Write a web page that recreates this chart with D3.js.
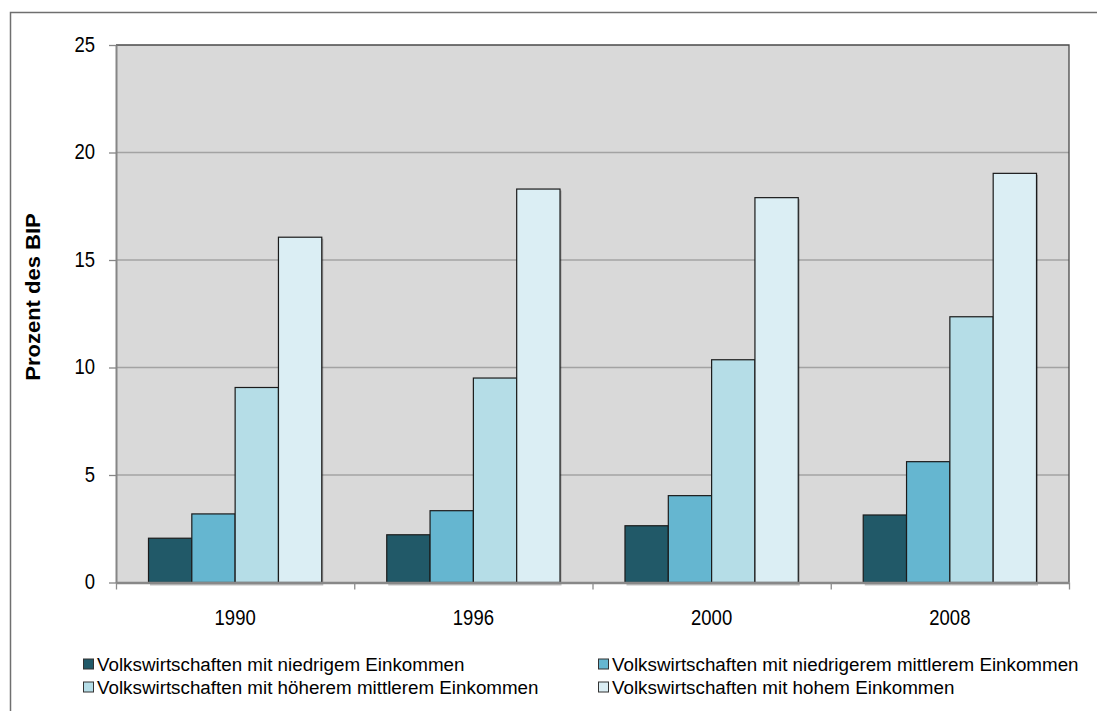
<!DOCTYPE html>
<html>
<head>
<meta charset="utf-8">
<script src="https://cdn.jsdelivr.net/npm/d3@7"></script>
<style>
    body { margin: 0; background: #ffffff; overflow: hidden; }
    svg { display: block; font-family: "Liberation Sans", Arial, sans-serif; }
</style>
</head>
<body>
<div id="chart"></div>
<script>
// chart values
const years = ["1990", "1996", "2000", "2008"];
const seriesNames = [
    "Volkswirtschaften mit niedrigem Einkommen",
    "Volkswirtschaften mit niedrigerem mittlerem Einkommen",
    "Volkswirtschaften mit höherem mittlerem Einkommen",
    "Volkswirtschaften mit hohem Einkommen"
];
const lowIncome = [2.06, 2.22, 2.64, 3.14];
const lowerMiddleIncome = [3.19, 3.34, 4.04, 5.62];
const upperMiddleIncome = [9.07, 9.51, 10.36, 12.36];
const highIncome = [16.06, 18.3, 17.9, 19.03];
const yTicks = [0, 5, 10, 15, 20, 25];

const seriesValues = [lowIncome, lowerMiddleIncome, upperMiddleIncome, highIncome];
const colors = ["#215968", "#65b6d0", "#b5dde7", "#dbeef4"];

const width = 1097, height = 711;
const margin = {top: 45, right: 28, bottom: 128.5, left: 116};
const stretch = 1.15; // axis text in the reference is slightly tall

const svg = d3.select("#chart").append("svg")
    .attr("width", width)
    .attr("height", height);

// outer chart frame (only top and left edges are inside the picture)
svg.append("path")
    .attr("d", `M${width},12.5H10.5V${height}`)
    .attr("fill", "none")
    .attr("stroke", "#6f6f6f")
    .attr("stroke-width", 1.5);

const x = d3.scaleBand()
    .domain(years)
    .range([margin.left, width - margin.right])
    .paddingInner(0.2727)
    .paddingOuter(0.1364);

const xSub = d3.scaleBand()
    .domain(d3.range(seriesNames.length))
    .range([0, x.bandwidth()]);

const y = d3.scaleLinear()
    .domain([0, 25])
    .range([height - margin.bottom, margin.top]);

// plot background
svg.append("rect")
    .attr("x", margin.left).attr("y", y(25))
    .attr("width", width - margin.right - margin.left)
    .attr("height", y(0) - y(25))
    .attr("fill", "#d9d9d9");

// gridlines
svg.append("g")
    .selectAll("line")
    .data(yTicks.filter(d => d > 0 && d < 25))
    .enter().append("line")
    .attr("x1", margin.left).attr("x2", width - margin.right)
    .attr("y1", d => y(d)).attr("y2", d => y(d))
    .attr("stroke", "#a3a3a3")
    .attr("stroke-width", 1.3);

// top and right border of plot
svg.append("path")
    .attr("d", `M${margin.left},${y(25)}H${width - margin.right}V${y(0)}`)
    .attr("fill", "none")
    .attr("stroke", "#4a4a4a")
    .attr("stroke-width", 1.3);

// bars
const rows = [];
years.forEach((yr, i) => {
    seriesValues.forEach((vals, s) => rows.push({year: yr, s: s, value: vals[i]}));
});

const bars = svg.append("g");

// faint drop shadow
bars.selectAll(".shadow")
    .data(rows)
    .enter().append("rect")
    .attr("class", "shadow")
    .attr("x", d => x(d.year) + xSub(d.s) + 1.5)
    .attr("y", d => y(d.value) + 1.5)
    .attr("width", xSub.bandwidth())
    .attr("height", d => y(0) - y(d.value) + 1.5)
    .attr("fill", "#000")
    .attr("opacity", 0.25);

bars.selectAll(".bar")
    .data(rows)
    .enter().append("rect")
    .attr("class", "bar")
    .attr("x", d => x(d.year) + xSub(d.s))
    .attr("y", d => y(d.value))
    .attr("width", xSub.bandwidth())
    .attr("height", d => y(0) - y(d.value))
    .attr("fill", d => colors[d.s])
    .attr("stroke", "#1b1b1b")
    .attr("stroke-width", 1.2);

// y axis
const yAxis = svg.append("g")
    .attr("transform", `translate(${margin.left},0)`)
    .call(d3.axisLeft(y).tickValues(yTicks).tickSize(7).tickPadding(14).tickSizeOuter(0));

yAxis.select(".domain").attr("stroke", "#868686").attr("stroke-width", 2);
yAxis.selectAll(".tick line").attr("stroke", "#868686").attr("stroke-width", 1.3);
yAxis.selectAll(".tick text")
    .attr("fill", "#000")
    .style("font-size", "18.5px")
    .attr("dy", "0.3em")
    .attr("transform", `scale(1,${stretch})`);

// x axis: boundary ticks
const xEdges = d3.scaleLinear().domain([0, years.length]).range([margin.left, width - margin.right]);
const xTickAxis = svg.append("g")
    .attr("transform", `translate(0,${y(0)})`)
    .call(d3.axisBottom(xEdges).ticks(years.length).tickSize(7).tickFormat("").tickSizeOuter(0));
xTickAxis.select(".domain").attr("stroke", "#888").attr("stroke-width", 2.5);
xTickAxis.selectAll(".tick line").attr("stroke", "#8c8c8c").attr("stroke-width", 1.3);

// x axis: category labels
const xAxis = svg.append("g")
    .attr("transform", `translate(0,${y(0)})`)
    .call(d3.axisBottom(x).tickSize(0));
xAxis.select(".domain").remove();
xAxis.selectAll(".tick text")
    .attr("fill", "#000")
    .style("font-size", "18.5px")
    .attr("y", 42.5 / stretch)
    .attr("dy", 0)
    .attr("transform", `scale(1,${stretch})`);

// y axis title
svg.append("text")
    .attr("transform", `translate(40,297) rotate(-90) scale(1.1,1)`)
    .attr("text-anchor", "middle")
    .style("font-size", "20px")
    .style("font-weight", "bold")
    .text("Prozent des BIP");

// legend, two columns
const legendCols = [83, 598];
const legendRows = [664, 687];
const legend = svg.append("g")
    .selectAll("g")
    .data(seriesNames)
    .enter().append("g")
    .attr("transform", (d, i) => `translate(${legendCols[i % 2]},${legendRows[Math.floor(i / 2)]})`);

legend.append("rect")
    .attr("x", 0.5).attr("y", -5)
    .attr("width", 10).attr("height", 10)
    .attr("fill", (d, i) => colors[i])
    .attr("stroke", "#333")
    .attr("stroke-width", 1);

legend.append("text")
    .attr("x", 14)
    .attr("dy", "0.36em")
    .style("font-size", "18.8px")
    .text(d => d);
</script>
</body>
</html>
